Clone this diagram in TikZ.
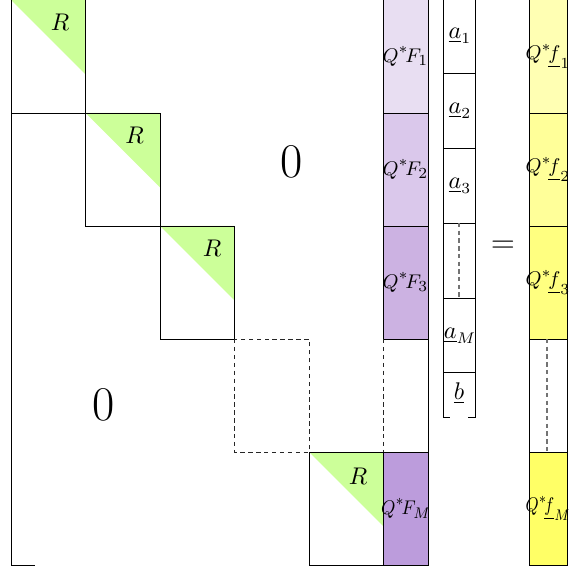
\documentclass[tikz,border=0pt]{standalone}
\definecolor{rgreen}{RGB}{204,255,153}
\definecolor{qfa}{RGB}{232,222,242}
\definecolor{qfb}{RGB}{218,200,235}
\definecolor{qfc}{RGB}{204,178,226}
\definecolor{qfd}{RGB}{188,156,220}
\definecolor{yla}{RGB}{255,255,179}
\definecolor{ylb}{RGB}{255,255,153}
\definecolor{ylc}{RGB}{255,255,128}
\definecolor{yld}{RGB}{255,255,102}
\begin{document}
\begin{tikzpicture}[x=0.4545pt,y=-0.4545pt,
  edge/.style={draw=black,line width=0.45pt},
  dashedge/.style={draw=black!85,line width=0.45pt,dash pattern=on 2pt off 1.6pt},
  graydash/.style={draw=black!55,line width=0.5pt,dash pattern=on 2pt off 1.5pt},
  rlabel/.style={inner sep=0pt,font=\fontsize{10.5}{12}\selectfont},
  zlabel/.style={inner sep=0pt,font=\fontsize{22}{26}\selectfont},
  qlabel/.style={inner sep=0pt,font=\fontsize{9.5}{11}\selectfont},
  alabel/.style={inner sep=0pt,font=\fontsize{10.5}{12}\selectfont}]
\useasboundingbox (0,0) rectangle (568,569);

% green triangles
\fill[rgreen] (11,0) -- (85.5,0) -- (85.5,74.5) -- cycle;
\fill[rgreen] (85.5,113) -- (160,113) -- (160,187.5) -- cycle;
\fill[rgreen] (160,226) -- (234.5,226) -- (234.5,300.5) -- cycle;
\fill[rgreen] (309,452) -- (383.5,452) -- (383.5,526.5) -- cycle;

% Q*F column fills
\fill[qfa] (383.5,0) rectangle (428,113);
\fill[qfb] (383.5,113) rectangle (428,226);
\fill[qfc] (383.5,226) rectangle (428,339);
\fill[qfd] (383.5,452) rectangle (428,565);

% Q*f column fills
\fill[yla] (529,0) rectangle (567,113);
\fill[ylb] (529,113) rectangle (567,226);
\fill[ylc] (529,226) rectangle (567,339);
\fill[yld] (529,452) rectangle (567,565);

% left bracket of matrix
\draw[edge] (35,0) -- (11,0) -- (11,565) -- (35,565);
% right bracket of matrix
\draw[edge] (403,0) -- (428,0) -- (428,565) -- (403,565);

% diagonal blocks
\draw[edge] (85.5,0) -- (85.5,113) -- (11,113);
\draw[edge] (85.5,113) rectangle (160,226);
\draw[edge] (160,226) rectangle (234.5,339);
\draw[dashedge] (234.5,339) rectangle (309,452);
\draw[edge] (309,452) rectangle (383.5,565);

% Q*F column lines
\draw[edge] (383.5,0) -- (383.5,339);
\draw[edge] (383.5,113) -- (428,113);
\draw[edge] (383.5,226) -- (428,226);
\draw[edge] (383.5,339) -- (428,339);
\draw[edge] (383.5,452) -- (428,452);
\draw[dashedge] (383.5,339) -- (383.5,452);
\draw[edge] (383.5,565) -- (428,565);

% a vector with bracket
\draw[edge] (450,0) -- (443,0) -- (443,417) -- (450,417);
\draw[edge] (468,0) -- (475,0) -- (475,417) -- (468,417);
\foreach \yy in {73,148,223,298,372}
  \draw[edge] (443,\yy) -- (475,\yy);
\draw[graydash] (459,223) -- (459,298);

% Q*f column lines
\draw[edge] (529,0) rectangle (567,565);
\foreach \yy in {113,226,339,452}
  \draw[edge] (529,\yy) -- (567,\yy);
\draw[graydash] (547,339) -- (547,452);

% labels
\node[rlabel] (r1) at (60,22) {$R$};
\node[rlabel] (r2) at (134.5,135) {$R$};
\node[rlabel] (r3) at (212,248) {$R$};
\node[rlabel] (rm) at (358,476) {$R$};
\node[zlabel] (zu) at (292,162) {0};
\node[zlabel] (zl) at (104,405) {0};

\node[qlabel] (qf1) at (405.5,56.5) {$Q^{*}\!F_1$};
\node[qlabel] (qf2) at (405.5,169.5) {$Q^{*}\!F_2$};
\node[qlabel] (qf3) at (405.5,282.5) {$Q^{*}\!F_3$};
\node[qlabel] (qfm) at (406,508.5) {\scalebox{0.9}[1]{$Q^{*}\!F_M$}};

\node[alabel] (a1) at (460,36) {$\underline{a}_1$};
\node[alabel] (a2) at (460,111) {$\underline{a}_2$};
\node[alabel] (a3) at (460,186) {$\underline{a}_3$};
\node[alabel] (am) at (460,336) {$\underline{a}_M$};
\node[alabel] (bb) at (459,393) {$\underline{b}$};

\node[inner sep=0pt,font=\fontsize{15}{17}\selectfont] (eq) at (503,247) {$=$};

\node[qlabel] (f1) at (548,56.5) {$Q^{*}\!\underline{f}_1$};
\node[qlabel] (f2) at (548,169.5) {$Q^{*}\!\underline{f}_2$};
\node[qlabel] (f3) at (548,282.5) {$Q^{*}\!\underline{f}_3$};
\node[qlabel] (fm) at (548,508.5) {\scalebox{0.82}[1]{$Q^{*}\!\underline{f}_M$}};
\end{tikzpicture}
\end{document}
